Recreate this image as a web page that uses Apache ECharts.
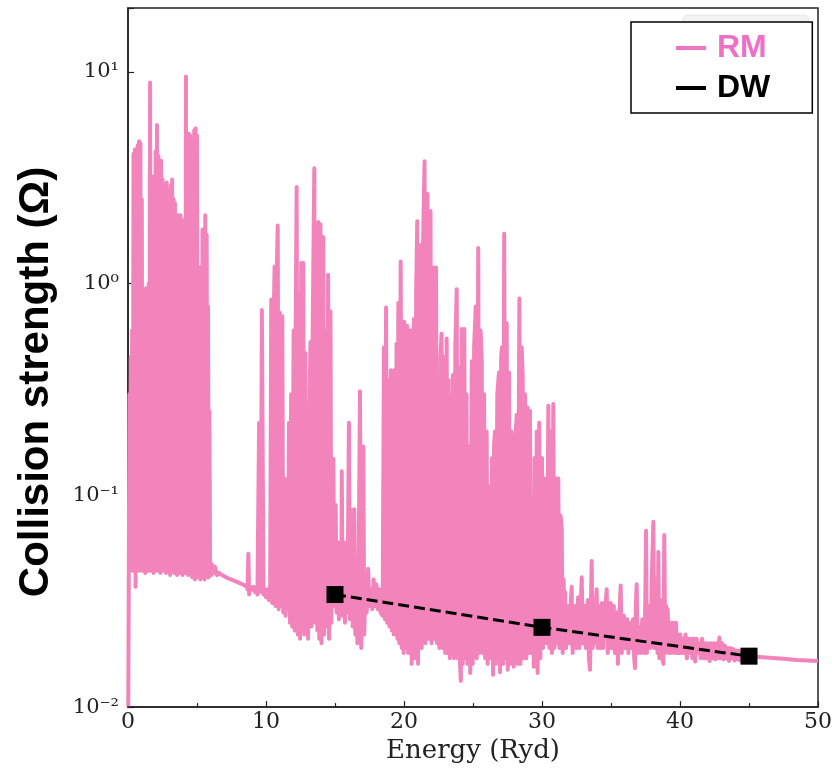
<!DOCTYPE html>
<html><head><meta charset="utf-8">
<script src="https://cdn.jsdelivr.net/npm/echarts@6/dist/echarts.min.js"></script>
<style>html,body{margin:0;padding:0;background:#fff}#c{width:835px;height:769px}</style>
</head><body><div id="c"></div>
<script>
// ---- data (Energy in Ryd, collision strength Omega) ----
const seriesNames = ['RM', 'DW'];
const xTickValues = [0, 10, 20, 30, 40, 50];
const yTickValues = [0.01, 0.1, 1, 10];

const rmBand1 = [
[0.02,0.0101],[0.06,0.045],[0.10,0.30],[0.15,0.044],[0.20,0.45],[0.25,0.046],[0.30,0.60],[0.35,0.044],[0.40,4.1],[0.45,0.045],
[0.50,4.3],[0.55,0.037],[0.60,1.8],[0.65,0.044],[0.70,4.5],[0.75,0.045],[0.80,4.7],[0.85,0.044],[0.90,4.6],[0.95,0.046],
[1.00,2.5],[1.05,0.044],[1.10,0.55],[1.15,0.045],[1.20,0.70],[1.25,0.043],[1.30,0.95],[1.35,0.045],[1.40,0.90],[1.45,0.044],
[1.50,1.0],[1.55,0.046],[1.60,8.9],[1.65,0.044],[1.70,3.0],[1.75,0.045],[1.80,3.2],[1.85,0.043],[1.90,2.8],[1.95,0.045],
[2.00,4.2],[2.05,0.044],[2.10,5.6],[2.15,0.046],[2.20,4.0],[2.25,0.044],[2.30,3.8],[2.35,0.043],[2.40,3.8],[2.45,0.045],
[2.50,3.1],[2.55,0.044],[2.60,0.87],[2.65,0.045],[2.70,2.9],[2.75,0.043],[2.80,3.0],[2.85,0.045],[2.90,2.7],[2.95,0.044],
[3.00,0.95],[3.05,0.042],[3.10,2.9],[3.15,0.044],[3.20,3.1],[3.25,0.045],[3.30,2.5],[3.35,0.043],[3.40,2.4],[3.45,0.044],
[3.50,2.1],[3.55,0.042],[3.60,2.1],[3.65,0.044],[3.70,1.9],[3.75,0.043],[3.80,2.1],[3.85,0.044],[3.90,2.0],[3.95,0.042],
[4.00,1.3],[4.05,0.044],[4.10,1.6],[4.15,0.043],[4.20,9.5],[4.25,0.044],[4.30,2.2],[4.35,0.042],[4.40,5.1],[4.45,0.043],
[4.50,5.0],[4.55,0.044],[4.60,4.6],[4.65,0.041],[4.70,4.8],[4.75,0.043],[4.80,5.3],[4.85,0.040],[4.90,5.4],[4.95,0.043],
[5.00,5.0],[5.05,0.041],[5.10,0.97],[5.15,0.043],[5.20,0.90],[5.25,0.040],[5.30,1.2],[5.35,0.041],[5.40,1.8],[5.45,0.043],
[5.50,1.5],[5.55,0.040],[5.60,2.1],[5.65,0.041],[5.70,1.7],[5.75,0.043],[5.80,0.78],[5.85,0.041],[5.90,0.25],[5.95,0.043],
[6.00,0.048],[6.05,0.042]
];

const rmGap1 = [
[6.1,0.047],[6.2,0.043],[6.3,0.046],[6.45,0.042],[6.6,0.043],[6.8,0.042],[7.1,0.041],[7.5,0.040],[7.9,0.039],
[8.3,0.038],[8.6,0.037],[8.66,0.036],[8.72,0.053],[8.78,0.034],[8.85,0.037],[9.0,0.036],[9.1,0.037],[9.2,0.035],
[9.3,0.036],[9.38,0.034]
];

const rmBand2 = [
[9.45,0.034],[9.5,0.22],[9.55,0.036],[9.62,0.035],[9.7,0.75],[9.76,0.75],[9.82,0.034],[9.9,0.036],[10.0,0.033],[10.1,0.036],
[10.2,0.032],[10.3,0.035],[10.38,0.84],[10.45,0.031],[10.55,0.6],[10.62,1.2],[10.68,0.030],[10.75,0.9],[10.85,1.88],[10.92,0.029],
[11.0,0.73],[11.08,0.030],[11.18,0.70],[11.25,0.028],[11.35,0.12],[11.42,0.027],[11.5,0.097],[11.58,0.029],[11.67,0.22],[11.74,0.025],
[11.82,0.3],[11.9,0.024],[12.0,0.6],[12.08,0.023],[12.15,0.62],[12.22,2.86],[12.3,0.022],[12.4,0.9],[12.47,0.021],[12.55,1.25],
[12.62,0.024],[12.7,1.25],[12.77,0.022],[12.85,0.47],[12.92,0.023],[13.0,0.12],[13.05,0.021],[13.15,0.25],[13.22,0.53],[13.3,0.024],
[13.37,0.5],[13.5,3.5],[13.57,0.025],[13.65,1.0],[13.72,0.023],[13.79,1.95],[13.86,0.021],[13.95,1.9],[14.02,0.020],[14.15,1.66],
[14.22,0.022],[14.31,0.6],[14.38,0.024],[14.5,1.1],[14.57,0.021],[14.67,0.74],[14.74,0.025],[14.88,0.149],[14.95,0.030],[15.05,0.09],
[15.12,0.028],[15.2,0.06],[15.28,0.026],[15.38,0.05],[15.45,0.030],[15.49,0.13],[15.56,0.027],[15.65,0.06],[15.72,0.025],[15.82,0.05],
[15.9,0.028],[16.01,0.22],[16.08,0.026],[16.21,0.085],[16.28,0.024],[16.4,0.086],[16.47,0.022],[16.55,0.045],[16.62,0.020],[16.72,0.05],
[16.81,0.31],[16.9,0.019],[17.05,0.17],[17.12,0.022],[17.2,0.040],[17.3,0.028],[17.4,0.045],[17.5,0.030],[17.6,0.036],[17.7,0.029],
[17.8,0.040],[17.9,0.030],[18.0,0.038],[18.1,0.029],[18.2,0.036],[18.3,0.028]
];

const rmBand3 = [
[18.45,0.027],[18.55,0.5],[18.62,0.026],[18.70,0.77],[18.78,0.025],[18.88,0.35],[18.95,0.024],[19.05,0.39],[19.12,0.023],[19.20,0.30],
[19.26,0.022],[19.30,0.39],[19.38,0.024],[19.46,0.52],[19.52,0.021],[19.59,0.81],[19.66,0.020],[19.76,1.27],[19.84,0.019],[19.92,0.45],
[19.97,0.018],[20.02,0.66],[20.10,0.019],[20.18,0.5],[20.24,0.63],[20.30,0.018],[20.40,0.45],[20.49,0.60],[20.56,0.016],[20.64,0.5],
[20.72,0.68],[20.80,0.017],[20.88,0.9],[20.96,1.97],[21.02,0.016],[21.10,1.1],[21.21,1.52],[21.28,0.019],[21.36,1.3],[21.49,3.78],
[21.55,0.020],[21.62,2.0],[21.70,2.65],[21.78,0.021],[21.85,1.6],[21.92,2.2],[22.0,0.020],[22.06,1.0],[22.12,1.19],[22.20,0.021],
[22.26,1.0],[22.32,1.19],[22.40,0.020],[22.49,0.23],[22.56,0.019],[22.64,0.45],[22.72,0.58],[22.80,0.019],[22.90,0.45],[22.98,0.018],
[23.09,0.55],[23.16,0.018],[23.24,0.35],[23.32,0.017],[23.40,0.29],[23.48,0.018],[23.55,0.37],[23.62,0.017],[23.72,0.5],[23.82,0.94],
[23.90,0.017],[23.99,0.4],[24.06,0.016],[24.12,0.0133],[24.18,0.61],[24.26,0.016],[24.37,0.61],[24.45,0.017],[24.53,0.3],[24.60,0.016],
[24.73,0.17],[24.80,0.0145],[24.91,0.43],[24.98,0.016],[25.08,0.5],[25.20,0.78],[25.27,0.017],[25.38,1.47],[25.46,0.018],[25.55,0.6],
[25.63,0.45],[25.70,0.018],[25.80,0.3],[25.88,0.017],[25.99,0.2],[26.06,0.016],[26.16,0.11],[26.24,0.017],[26.38,0.15],[26.45,0.0142],
[26.52,0.17],[26.59,0.2],[26.66,0.016],[26.76,0.3],[26.88,0.38],[26.96,0.0146],[27.04,0.45],[27.10,0.5],[27.18,0.016],[27.26,1.72],
[27.34,0.017],[27.44,0.65],[27.52,0.015],[27.61,0.38],[27.68,0.016],[27.78,0.2],[27.88,0.157],[27.95,0.0155],[28.05,0.18],[28.17,0.24],
[28.24,0.016],[28.36,0.85],[28.44,0.016],[28.53,0.5],[28.60,0.37],[28.68,0.017],[28.77,0.3],[28.86,0.017],[28.95,0.26],[29.02,0.018],
[29.13,0.25],[29.20,0.018],[29.33,0.055],[29.40,0.0155],[29.46,0.15],[29.54,0.016],[29.62,0.2],[29.68,0.0145],[29.80,0.22],[29.88,0.017],
[30.0,0.15],[30.08,0.019],[30.16,0.12],[30.27,0.078],[30.34,0.020],[30.46,0.265],[30.54,0.019],[30.65,0.2],[30.72,0.018],[30.82,0.27],
[30.90,0.019],[31.01,0.12],[31.08,0.020],[31.18,0.12],[31.26,0.019],[31.35,0.08],[31.43,0.07],[31.50,0.018],[31.57,0.04]
];

const rmBand4 = [
[31.62,0.019],[31.67,0.035],[31.74,0.019],[31.82,0.028],[31.9,0.030],[31.97,0.020],[32.05,0.028],[32.15,0.037],[32.22,0.018],[32.3,0.027],
[32.4,0.030],[32.47,0.019],[32.55,0.028],[32.62,0.033],[32.7,0.019],[32.8,0.030],[32.88,0.041],[32.95,0.020],[33.02,0.028],[33.1,0.030],
[33.18,0.019],[33.26,0.029],[33.33,0.032],[33.4,0.017],[33.48,0.015],[33.54,0.030],[33.6,0.049],[33.67,0.019],[33.77,0.031],[33.84,0.020],
[33.9,0.030],[33.96,0.036],[34.04,0.019],[34.13,0.030],[34.2,0.019],[34.28,0.028],[34.35,0.031],[34.42,0.019],[34.5,0.028],[34.6,0.030],
[34.69,0.036],[34.76,0.018],[34.86,0.028],[34.92,0.019],[34.98,0.031],[35.06,0.019],[35.14,0.028],[35.2,0.030],[35.28,0.018],[35.36,0.027],
[35.43,0.028],[35.5,0.016],[35.57,0.025],[35.64,0.030],[35.7,0.0375],[35.78,0.018],[35.86,0.026],[35.94,0.027],[36.0,0.019],[36.1,0.025],
[36.18,0.026],[36.26,0.018],[36.32,0.025],[36.38,0.025],[36.46,0.019],[36.54,0.024],[36.6,0.026],[36.68,0.017],[36.74,0.0153],[36.8,0.030],
[36.86,0.038],[36.94,0.018],[37.02,0.024],[37.1,0.024],[37.18,0.018],[37.26,0.026],[37.34,0.024],[37.42,0.018],[37.48,0.030],[37.54,0.068],
[37.6,0.018],[37.7,0.030],[37.8,0.030],[37.87,0.019],[37.95,0.040],[38.07,0.075],[38.14,0.019],[38.22,0.035],[38.3,0.040],[38.37,0.018],
[38.43,0.054],[38.5,0.017],[38.57,0.030],[38.65,0.032],[38.72,0.017],[38.8,0.016],[38.86,0.065],[38.93,0.018],[39.0,0.030],[39.06,0.019],
[39.11,0.029],[39.18,0.018],[39.26,0.025],[39.34,0.018],[39.42,0.024],[39.5,0.025],[39.58,0.018],[39.64,0.023],[39.71,0.025],[39.78,0.018],
[39.86,0.022],[39.94,0.018],[40.02,0.022],[40.1,0.018],[40.2,0.021],[40.3,0.018],[40.4,0.022],[40.5,0.017],[40.6,0.021],[40.7,0.018],
[40.8,0.021],[40.9,0.017],[41.0,0.021],[41.1,0.0164],[41.2,0.021],[41.3,0.018],[41.4,0.020],[41.5,0.017],[41.6,0.021],[41.67,0.021],
[41.75,0.017],[41.85,0.020],[41.95,0.017],[42.05,0.020],[42.15,0.0165],[42.25,0.020],[42.35,0.017],[42.45,0.020],[42.55,0.0168],[42.65,0.020],
[42.75,0.017],[42.85,0.0213],[42.95,0.017],[43.05,0.020],[43.15,0.0168],[43.25,0.0195],[43.35,0.017],[43.45,0.019],[43.55,0.0165],[43.65,0.019],
[43.75,0.017],[43.85,0.0188],[43.95,0.0166],[44.05,0.0185],[44.15,0.0168],[44.25,0.0185],[44.35,0.0166],[44.45,0.018],[44.55,0.0167],[44.65,0.0178],
[44.75,0.0168],[44.85,0.0176],[44.95,0.017],[45.1,0.0174]
];

const rmTail = [[45.5,0.0173],[46.5,0.0171],[47.5,0.0169],[48.5,0.0167],[50.0,0.0165]];

const dwEnergy = [15, 30, 45];
const dwOmega = [0.034, 0.0238, 0.0174];

// ---- build ----
const rmData = [].concat(rmBand1, rmGap1, rmBand2, rmBand3, rmBand4, rmTail);
const dwData = dwEnergy.map((e, i) => [e, dwOmega[i]]);

const supMap = {'-': '\u207B', '0': '\u2070', '1': '\u00B9', '2': '\u00B2', '3': '\u00B3'};
function logLabel(v) {
  const l = Math.log10(v);
  const e = Math.round(l);
  if (Math.abs(l - e) > 1e-6) return '';
  if (!yTickValues.some(t => Math.abs(Math.log10(t) - e) < 1e-6)) return '';
  return '10' + String(e).split('').map(c => supMap[c]).join('');
}

const chart = echarts.init(document.getElementById('c'), null, {renderer: 'canvas'});
const axisColor = '#222';
const serif = '"DejaVu Serif", serif';

chart.setOption({
  animation: false,
  backgroundColor: '#fff',
  grid: {left: 128, right: 17, top: 8, bottom: 59, show: true, borderColor: axisColor, borderWidth: 1.5, backgroundColor: 'transparent'},
  xAxis: {
    type: 'value', min: xTickValues[0], max: xTickValues[xTickValues.length - 1], interval: 10,
    name: 'Energy (Ryd)', nameLocation: 'middle', nameGap: 29,
    nameTextStyle: {fontFamily: serif, fontSize: 26, color: axisColor},
    axisLine: {show: true, lineStyle: {color: axisColor, width: 1.5}},
    axisTick: {show: true, inside: true, length: 6, lineStyle: {color: axisColor, width: 1.2}},
    minorTick: {show: true, splitNumber: 2, length: 4, lineStyle: {color: axisColor, width: 1.2}},
    axisLabel: {fontFamily: serif, fontSize: 22, color: axisColor, margin: 4},
    splitLine: {show: false}
  },
  yAxis: {
    type: 'log', logBase: 10, min: 0.01, max: 20,
    axisLine: {show: true, lineStyle: {color: axisColor, width: 1.5}},
    axisTick: {show: true, inside: true, length: 6, lineStyle: {color: axisColor, width: 1.2}},
    axisLabel: {fontFamily: serif, fontSize: 21, color: axisColor, margin: 9, formatter: logLabel},
    splitLine: {show: false},
    minorTick: {show: false}
  },
  legend: {
    orient: 'vertical', left: 631, top: 22,
    padding: [10, 42, 9, 45],
    itemGap: 8, itemWidth: 30, itemHeight: 4,
    backgroundColor: '#fff', borderColor: '#000', borderWidth: 1.5, borderRadius: 0,
    textStyle: {fontFamily: '"Liberation Sans", Arial, sans-serif', fontSize: 32, fontWeight: 'bold', lineHeight: 32, padding: [0, 0, 0, 6]},
    data: [
      {name: seriesNames[0], icon: 'rect', itemStyle: {color: '#ef72c6'}, textStyle: {color: '#ef6fc6'}},
      {name: seriesNames[1], icon: 'rect', itemStyle: {color: '#000'}, textStyle: {color: '#000'}}
    ],
    z: 10
  },
  graphic: [
    {type: 'rect', z: 1, shape: {x: 683, y: 15, width: 126, height: 40, r: 5}, style: {fill: '#f3f3f3', stroke: '#e6e6e6'}},
    {type: 'text', z: 5, x: 36, y: 382, rotation: Math.PI / 2,
     style: {text: 'Collision strength (\u03A9)', font: 'bold 42px "Liberation Sans", Arial, sans-serif', fill: '#000',
             textAlign: 'center', textVerticalAlign: 'middle', align: 'center', verticalAlign: 'middle'}}
  ],
  series: [
    {
      name: seriesNames[0], type: 'line', data: rmData, showSymbol: false, symbol: 'none',
      clip: true, z: 2,
      lineStyle: {color: '#f383bb', width: 4, join: 'round', cap: 'butt'},
      itemStyle: {color: '#f383bb'}
    },
    {
      name: seriesNames[1], type: 'line', data: dwData, symbol: 'rect', symbolSize: 17, showSymbol: true, z: 3,
      lineStyle: {color: '#000', width: 3, type: [11, 5]},
      itemStyle: {color: '#000'}
    }
  ]
});
</script>
</body></html>
